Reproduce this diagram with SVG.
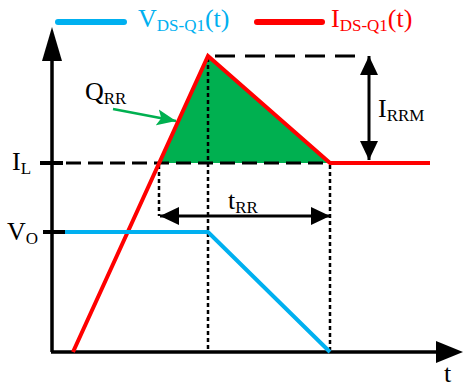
<svg xmlns="http://www.w3.org/2000/svg" width="464" height="388" viewBox="0 0 464 388">
<style>
text{font-family:"Liberation Serif","Times New Roman",serif;font-size:26px;fill:#000}
.sub{font-size:17px}
.axis{stroke:#000;stroke-width:3.5;fill:none}
.tick{stroke:#000;stroke-width:4}
.red{stroke:#ff0000;stroke-width:4;fill:none;stroke-linejoin:miter}
.blue{stroke:#00b0f0;stroke-width:4;fill:none}
.dash{stroke:#000;stroke-width:3;stroke-dasharray:15 7;fill:none}
.dashT{stroke:#000;stroke-width:3;stroke-dasharray:20 10;fill:none}
.dot{stroke:#000;stroke-width:2.5;stroke-dasharray:4 3;fill:none}
.dim{stroke:#000;stroke-width:3;fill:none}
</style>
<defs>
<marker id="ah" markerUnits="userSpaceOnUse" markerWidth="20" markerHeight="20" refX="19" refY="10" orient="auto-start-reverse">
<path d="M0,1 L19,10 L0,19 Z" fill="#000"/>
</marker>
<marker id="gh" markerUnits="userSpaceOnUse" markerWidth="20" markerHeight="18" refX="19" refY="9" orient="auto">
<path d="M0,1 L19,9 L0,17 L4,9 Z" fill="#00b050"/>
</marker>
</defs>

<g id="legend">
<line x1="58" y1="22" x2="124" y2="22" stroke="#00b0f0" stroke-width="6" stroke-linecap="round"/>
<text x="138" y="27" style="fill:#00b0f0">V<tspan class="sub" dy="4">DS-Q1</tspan><tspan dy="-4">(t)</tspan></text>
<line x1="257" y1="22" x2="322" y2="22" stroke="#ff0000" stroke-width="6" stroke-linecap="round"/>
<text x="331" y="27" style="fill:#ff0000">I<tspan class="sub" dy="4">DS-Q1</tspan><tspan dy="-4">(t)</tspan></text>
</g>

<g id="qrr-area">
<polygon points="159,163 208,56 330,163" fill="#00b050"/>
</g>

<g id="axes">
<line class="axis" x1="52" y1="352" x2="52" y2="58"/>
<polygon points="52,27 42,61 62,61" fill="#000"/>
<line class="axis" x1="51" y1="352" x2="438" y2="352"/>
<polygon points="463,352 436,341 436,363" fill="#000"/>
<line class="tick" x1="40" y1="163" x2="63" y2="163"/>
<line class="tick" x1="43" y1="232" x2="65" y2="232"/>
</g>

<g id="guides">
<line class="dash" x1="66" y1="163" x2="330" y2="163"/>
<line class="dashT" x1="215" y1="56" x2="365" y2="56"/>
<line class="dot" x1="208" y1="58" x2="208" y2="350"/>
<line class="dot" x1="330" y1="165" x2="330" y2="350"/>
<line class="dot" x1="159" y1="165" x2="159" y2="216"/>
</g>

<g id="connectors">
<line class="dim" x1="369" y1="56" x2="369" y2="160" marker-start="url(#ah)" marker-end="url(#ah)"/>
<line class="dim" x1="160" y1="216" x2="330" y2="216" marker-start="url(#ah)" marker-end="url(#ah)"/>
<line x1="113" y1="109" x2="176" y2="121" stroke="#00b050" stroke-width="2.5" marker-end="url(#gh)"/>
</g>

<g id="current">
<polyline class="red" points="73,352 208,56 330,163 430,163"/>
</g>

<g id="voltage">
<polyline class="blue" points="65,232 208,232 330,352"/>
</g>

<g id="labels">
<text x="85" y="100">Q<tspan class="sub" dy="4">RR</tspan></text>
<text x="378" y="117">I<tspan class="sub" dy="4">RRM</tspan></text>
<text x="12" y="170">I<tspan class="sub" dy="4">L</tspan></text>
<text x="7" y="240">V<tspan class="sub" dy="4">O</tspan></text>
<text x="228" y="209">t<tspan class="sub" dy="4">RR</tspan></text>
<text x="444" y="382">t</text>
</g>
</svg>
